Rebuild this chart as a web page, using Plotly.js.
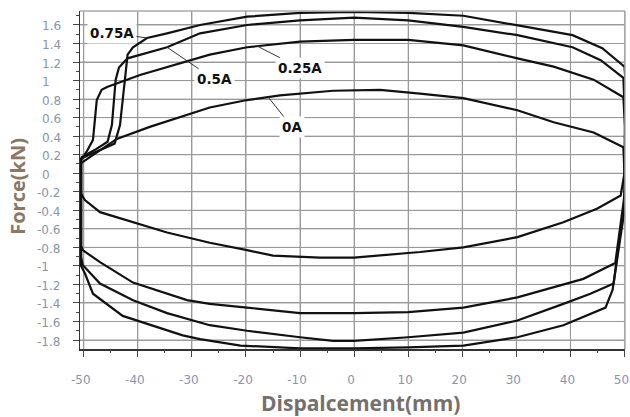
<!DOCTYPE html>
<html><head><meta charset="utf-8">
<script src="https://cdn.plot.ly/plotly-3.0.1.min.js"></script>
<style>html,body{margin:0;padding:0;background:#fff}#chart{width:630px;height:417px}</style>
</head><body><div id="chart"></div>
<script>
// Displacement (mm) and force (kN) for each hysteresis loop
const x0A = [-50.5,-43.9,-37.8,-26.7,-19.8,-13.7,-3.9,4.8,12.2,20.2,30.2,36.9,44.3,49.8,50.0,49.3,45.0,38.7,30.2,20.2,12.2,0,-6.3,-15,-19.8,-26.7,-34.6,-40.9,-47,-49.8,-50.5,-50.5];
const y0A = [0.11,0.37,0.50,0.71,0.79,0.84,0.89,0.90,0.86,0.81,0.68,0.55,0.44,0.28,0.0,-0.24,-0.38,-0.53,-0.69,-0.80,-0.85,-0.91,-0.91,-0.89,-0.83,-0.75,-0.64,-0.53,-0.42,-0.29,-0.22,0.11];

const x025A = [-50.5,-49.3,-48.3,-47.6,-46.7,-45.7,-39.6,-26.7,-19.8,-10,0,10,20.2,25.7,30.2,36.9,44.3,49.8,50.1,50.1,48.3,42.4,30.2,20.2,10,0,-10,-19.8,-26.7,-30.9,-40.9,-47,-50.2,-50.5,-50.5];
const y025A = [0.14,0.25,0.36,0.79,0.90,0.93,1.06,1.28,1.36,1.42,1.44,1.44,1.38,1.30,1.24,1.15,1.01,0.82,0.5,-0.2,-0.97,-1.14,-1.34,-1.45,-1.50,-1.51,-1.51,-1.45,-1.41,-1.37,-1.18,-0.96,-0.83,-0.78,0.14];

const x05A = [-50.5,-48,-45.6,-44.8,-44.1,-43.5,-41.9,-34.6,-28.5,-19.8,-10,0,10,20.2,30.2,40.4,45.6,49.8,50.1,50.0,48,43.7,38.7,30.2,20.2,10,0,-3.9,-10,-19.8,-26.7,-34.6,-40.9,-47,-50.2,-50.5,-50.5];
const y05A = [0.17,0.25,0.34,0.52,1.01,1.14,1.24,1.36,1.51,1.60,1.65,1.68,1.65,1.58,1.49,1.36,1.22,1.03,0.6,-0.3,-1.19,-1.30,-1.41,-1.59,-1.72,-1.77,-1.81,-1.81,-1.77,-1.70,-1.64,-1.51,-1.37,-1.19,-0.99,-0.9,0.17];

const x075A = [-50.5,-47,-44.3,-43.3,-42.4,-41.9,-40.9,-38.3,-34.6,-28.5,-19.8,-10,0,10,20.2,30.2,40.4,45.9,50,50.2,50.0,47.8,46.5,38.7,30.2,20.2,10,0,-10,-21,-28.5,-31.7,-42.8,-48.3,-49.8,-50.5,-50.5];
const y075A = [0.16,0.25,0.32,0.52,1.06,1.28,1.36,1.46,1.51,1.60,1.69,1.73,1.74,1.73,1.70,1.60,1.49,1.35,1.15,1.0,-0.4,-1.26,-1.45,-1.64,-1.77,-1.86,-1.88,-1.89,-1.89,-1.86,-1.79,-1.75,-1.54,-1.30,-1.08,-1.0,0.16];

const seriesNames = ["0A","0.25A","0.5A","0.75A"];
const xTickVals = [-50,-40,-30,-20,-10,0,10,20,30,40,50];
const xTickLabels = ["-50","-40","-30","-20","-10","0","10","20","30","40","50"];
const yTickVals = [1.6,1.4,1.2,1,0.8,0.6,0.4,0.2,0,-0.2,-0.4,-0.6,-0.8,-1,-1.2,-1.4,-1.6,-1.8];
const yTickLabels = ["1.6","1.4","1.2","1","0.8","0.6","0.4","0.2","0","-0.2","-0.4","-0.6","-0.8","-1","-1.2","-1.4","-1.6","-1.8"];
const xTitle = "Dispalcement(mm)";
const yTitle = "Force(kN)";

const xs = [x0A, x025A, x05A, x075A];
const ys = [y0A, y025A, y05A, y075A];

const tickColor = '#8795ad';
const gridColor = '#9a9a9a';
const plotL = 80, plotW = 545;
const xRange = [-50.7, 50.1];
const yRange = [-1.897, 1.751];

// grid drawn as line traces through the axes' own scales (one path per axis, gaps between segments)
const gx = [], gy = [];
xTickVals.forEach(v => { gx.push(v, v, null); gy.push(yRange[0], yRange[1], null); });
const hx = [], hy = [];
yTickVals.forEach(v => { hx.push(xRange[0], xRange[1], null); hy.push(v, v, null); });

const traces = [
  {x: gx, y: gy, type: 'scatter', mode: 'lines', line: {color: gridColor, width: 1}, hoverinfo: 'skip', connectgaps: false, cliponaxis: true},
  {x: hx, y: hy, type: 'scatter', mode: 'lines', line: {color: gridColor, width: 1}, hoverinfo: 'skip', connectgaps: false, cliponaxis: true}
];
xs.forEach((xv, i) => traces.push({
  x: xv, y: ys[i], name: seriesNames[i], type: 'scatter', mode: 'lines',
  line: {color: '#111111', width: 2.2}, hoverinfo: 'skip'
}));
// invisible helper trace so the minor-tick overlay axes are drawn
traces.push({x: [0], y: [0], xaxis: 'x2', yaxis: 'y2', type: 'scatter', mode: 'markers',
  marker: {opacity: 0}, hoverinfo: 'skip', showlegend: false});

const shapes = [
  {type: 'line', xref: 'paper', yref: 'paper', x0: 0, x1: 1, y0: 1, y1: 1, line: {color: '#aaaaaa', width: 1.5}},
  {type: 'line', xref: 'paper', yref: 'paper', x0: 1, x1: 1, y0: 0, y1: 1, line: {color: '#aaaaaa', width: 1.5}}
];

const annotations = [];
yTickVals.forEach((v, i) => {
  const px = v < 0 ? 35 : 40;
  annotations.push({
    xref: 'paper', yref: 'y', x: (px - plotL) / plotW, y: v, xanchor: 'left', yanchor: 'middle',
    text: yTickLabels[i], showarrow: false, yshift: -1.5,
    font: {family: 'DejaVu Sans', size: 12, color: tickColor}
  });
});
annotations.push({
  xref: 'paper', yref: 'paper', x: (18 - plotL) / plotW, y: 0.48, xanchor: 'center', yanchor: 'middle',
  text: '<b>' + yTitle + '</b>', textangle: -90, showarrow: false,
  font: {family: 'Open Sans', size: 20, color: '#8a7764'}
});
annotations.push({
  xref: 'paper', yref: 'paper', x: (360 - plotL) / plotW, y: 0, yshift: -54, xanchor: 'center', yanchor: 'middle',
  text: '<b>' + xTitle + '</b>', showarrow: false,
  font: {family: 'Open Sans', size: 21, color: '#76706c'}
});

// curve labels with leader lines
const labelSpecs = [
  {i: 0, x: -15.9, ax: 24, ay: 30},
  {i: 1, x: -17.9, ax: 43, ay: 22},
  {i: 2, x: -34.6, ax: 47, ay: 32},
  {i: 3, x: -38.3, ax: -35, ay: -5}
];
function upperAt(xv, yv, xq) {
  for (let k = 0; k < xv.length - 1; k++) {
    if (xv[k] <= xq && xv[k+1] >= xq && xv[k+1] > xv[k]) {
      const t = (xq - xv[k]) / (xv[k+1] - xv[k]);
      return yv[k] + t * (yv[k+1] - yv[k]);
    }
  }
  return 0;
}
labelSpecs.forEach(s => {
  annotations.push({
    xref: 'x', yref: 'y', x: s.x, y: upperAt(xs[s.i], ys[s.i], s.x),
    text: '<b>' + seriesNames[s.i] + '</b>', showarrow: true, arrowhead: 0, arrowwidth: 1,
    arrowcolor: '#333333', ax: s.ax, ay: s.ay, bgcolor: '#ffffff', borderpad: 2,
    font: {family: 'DejaVu Sans', size: 13.5, color: '#111111'}
  });
});

const layout = {
  width: 630, height: 417,
  margin: {l: 80, r: 5, t: 11, b: 68},
  paper_bgcolor: '#ffffff', plot_bgcolor: '#ffffff',
  showlegend: false,
  xaxis: {
    range: xRange, tickmode: 'array', tickvals: xTickVals, ticktext: xTickLabels,
    showgrid: true, gridcolor: gridColor, gridwidth: 1,
    zeroline: false, showline: true, linecolor: '#333333', linewidth: 1.5,
    ticks: 'outside', ticklen: 6, tickcolor: '#444444', tickwidth: 1,
    ticklabelstandoff: 13, ticklabelshift: -3, ticklabeloverflow: 'allow',
    tickfont: {family: 'DejaVu Sans', size: 12, color: tickColor}
  },
  yaxis: {
    range: yRange, tickmode: 'array', tickvals: yTickVals, ticktext: yTickLabels, showticklabels: false,
    showgrid: true, gridcolor: gridColor, gridwidth: 1,
    zeroline: false, showline: true, linecolor: '#333333', linewidth: 1.5,
    ticks: 'outside', ticklen: 6, tickcolor: '#444444', tickwidth: 1
  },
  xaxis2: {
    overlaying: 'x', range: xRange, tickmode: 'linear', tick0: 0, dtick: 5, side: 'bottom',
    showgrid: false, zeroline: false, showline: false, showticklabels: false,
    ticks: 'outside', ticklen: 3, tickcolor: '#444444', tickwidth: 1
  },
  yaxis2: {
    overlaying: 'y', range: yRange, tickmode: 'linear', tick0: 0, dtick: 0.1, side: 'left',
    showgrid: false, zeroline: false, showline: false, showticklabels: false,
    ticks: 'outside', ticklen: 3, tickcolor: '#444444', tickwidth: 1
  },
  shapes: shapes,
  annotations: annotations
};

Plotly.newPlot('chart', traces, layout, {displayModeBar: false, staticPlot: true});
</script>
</body></html>
